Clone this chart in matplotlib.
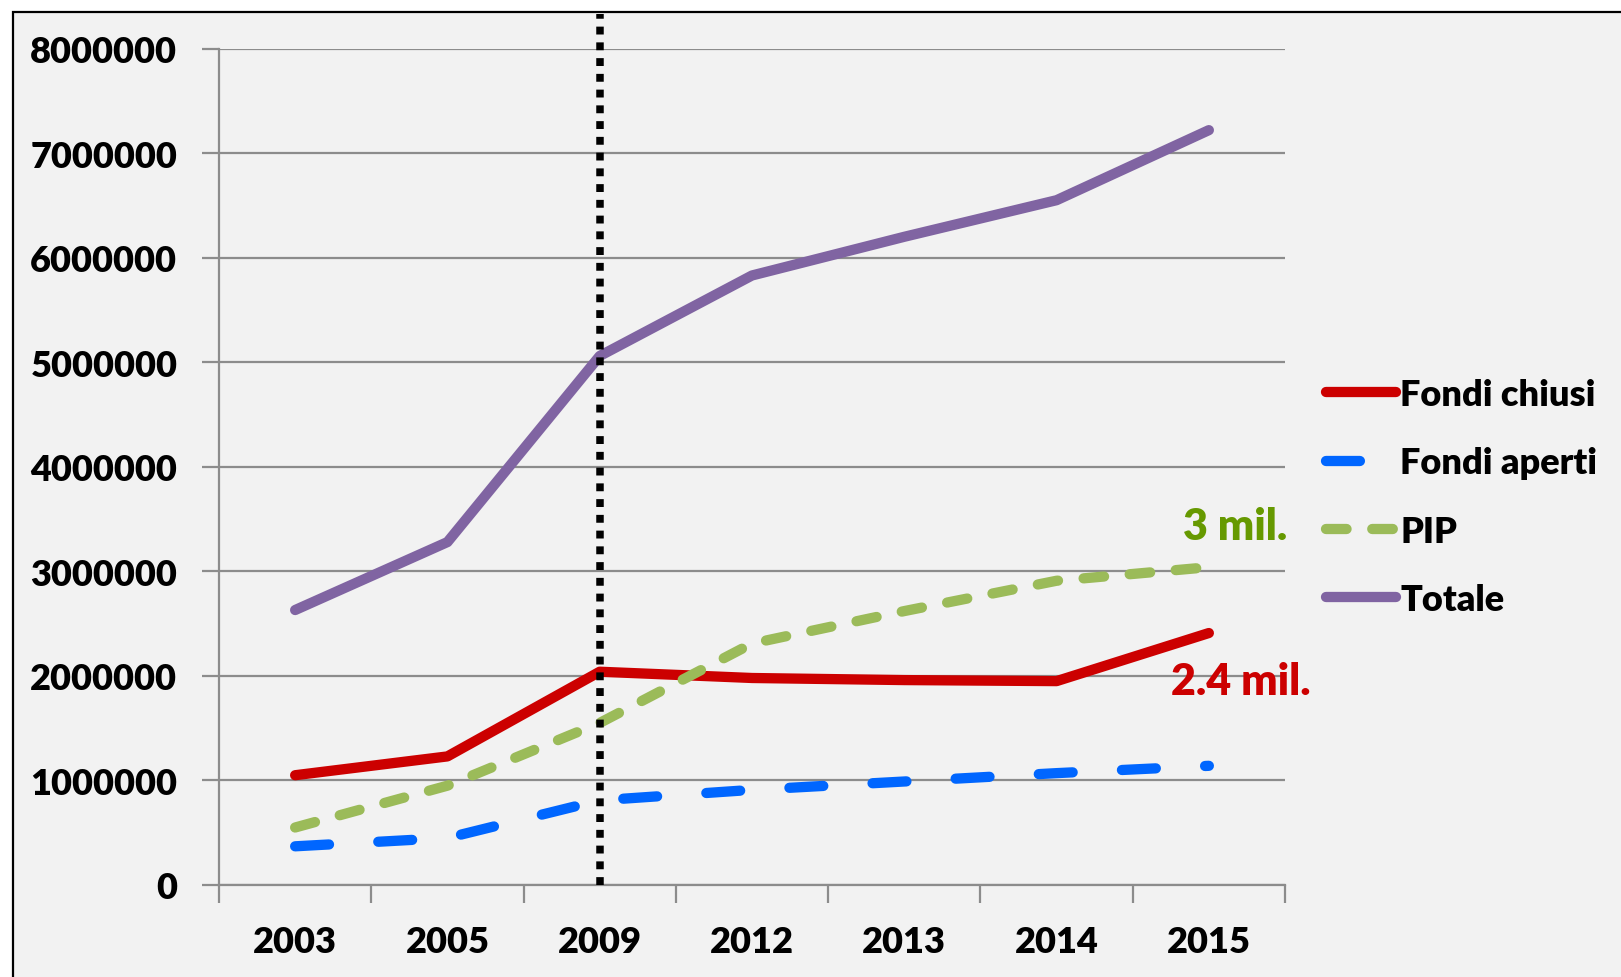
import matplotlib
matplotlib.use("Agg")
import matplotlib.pyplot as plt
from matplotlib.patches import Rectangle

years = ["2003", "2005", "2009", "2012", "2013", "2014", "2015"]
fondi_chiusi = [1050000, 1230000, 2040000, 1980000, 1960000, 1950000, 2410000]
fondi_aperti = [370000, 450000, 810000, 910000, 990000, 1070000, 1140000]
pip = [550000, 950000, 1550000, 2310000, 2620000, 2910000, 3040000]
totale = [2630000, 3280000, 5060000, 5830000, 6200000, 6550000, 7220000]
yticks = [0, 1000000, 2000000, 3000000, 4000000, 5000000, 6000000, 7000000, 8000000]
divider_year = "2009"

FONT = "Lato"
WEIGHT = "heavy"
BG = "#f2f2f2"
GRID = "#8c8c8c"

fig = plt.figure(figsize=(16.21, 9.78), dpi=100)
fig.patch.set_facecolor("white")
fig.patches.append(Rectangle((12.5 / 1621, -0.1), 1.2, 1 - 12.5 / 978 + 0.1,
                             transform=fig.transFigure, facecolor=BG,
                             edgecolor="black", linewidth=1.6, zorder=-1))

ax = fig.add_axes([219 / 1621, 1 - 886 / 978, (1285 - 219) / 1621, (886 - 49.6) / 978])
ax.set_facecolor("none")

xs = [i + 0.5 for i in range(len(years))]
lw = 7.4
ax.plot(xs, fondi_chiusi, color="#cc0000", lw=lw, solid_capstyle="round",
        solid_joinstyle="round", label="Fondi chiusi", zorder=3)
ax.plot(xs, fondi_aperti, color="#0066ff", lw=lw, dashes=(3.3, 4.8),
        dash_capstyle="round", label="Fondi aperti", zorder=3)
ax.plot(xs, pip, color="#9bbb59", lw=lw, dashes=(2.0, 2.5),
        dash_capstyle="round", label="PIP", zorder=3)
ax.plot(xs, totale, color="#8064a2", lw=lw, solid_capstyle="round",
        solid_joinstyle="round", label="Totale", zorder=3)

dx = years.index(divider_year) + 0.5
ax.axvline(dx, ymin=0, ymax=1.041, color="black", lw=5.4, dashes=(1.05, 1.05),
           dash_capstyle="butt", clip_on=False, zorder=4)

ax.set_xlim(0, len(years))
ax.set_ylim(0, 8000000)
ax.set_yticks(yticks)
ax.set_yticklabels([str(v) for v in yticks])
ax.set_xticks(range(len(years) + 1))
ax.set_xticklabels([])
ax.set_xticks(xs, minor=True)
ax.set_xticklabels(years, minor=True)
ax.tick_params(axis="x", which="major", length=13, width=1.6, color=GRID, direction="out")
ax.tick_params(axis="x", which="minor", length=0, pad=29)
ax.tick_params(axis="y", length=12, width=1.6, color=GRID, pad=18)
for lab in ax.get_yticklabels() + ax.get_xticklabels(minor=True):
    lab.set_fontfamily(FONT)
    lab.set_fontweight(WEIGHT)
    lab.set_fontsize(26)

ax.grid(axis="y", color=GRID, lw=1.6, zorder=1)
ax.set_axisbelow(True)
for s in ["top", "right"]:
    ax.spines[s].set_visible(False)
for s in ["left", "bottom"]:
    ax.spines[s].set_color(GRID)
    ax.spines[s].set_linewidth(1.6)

ax.text(6.67, 3430000, "3 mil.", color="#669900", fontsize=31, fontweight=WEIGHT,
        family=FONT, ha="center", va="center")
ax.text(6.71, 1950000, "2.4 mil.", color="#cc0000", fontsize=31, fontweight=WEIGHT,
        family=FONT, ha="center", va="center")

leg = ax.legend(loc="center left", frameon=False,
                prop={"family": FONT, "weight": WEIGHT, "size": 26},
                handlelength=1.95, handletextpad=0.1, labelspacing=0.98,
                borderaxespad=0, borderpad=0)
leg.set_bbox_to_anchor((1326 / 1621, 1 - 498 / 978), transform=fig.transFigure)

fig.savefig("out.png", dpi=100, facecolor=fig.get_facecolor())
